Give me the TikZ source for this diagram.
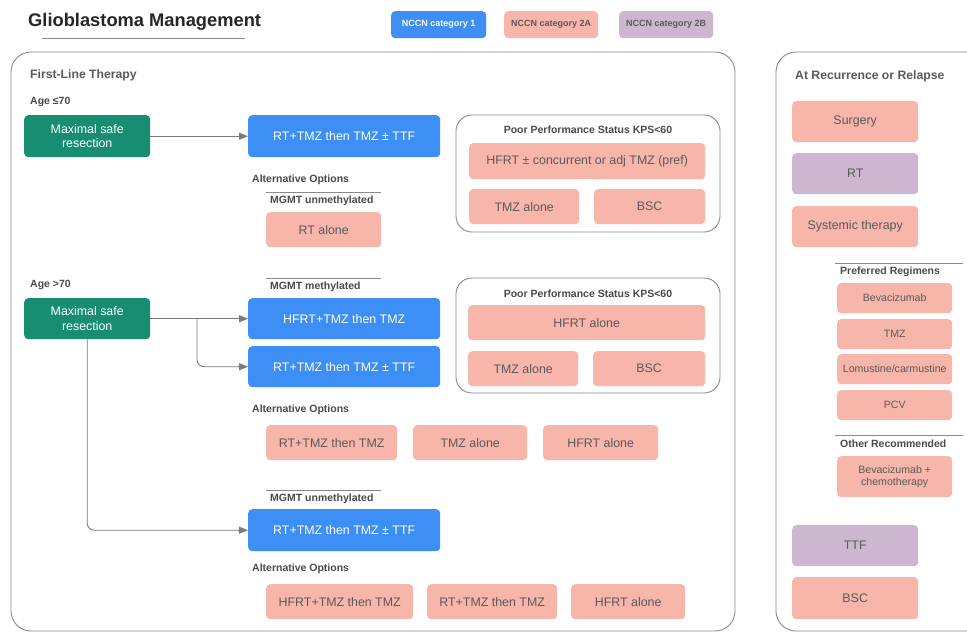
\documentclass[tikz,border=0pt]{standalone}
\usepackage{fontspec}
\setmainfont{Liberation Sans}
\usetikzlibrary{arrows.meta}
\definecolor{cblue}{HTML}{3D8EF5}
\definecolor{csal}{HTML}{F8B5A9}
\definecolor{clav}{HTML}{CDB7D0}
\definecolor{cgreen}{HTML}{178E71}
\definecolor{tgray}{HTML}{5A5A5A}
\definecolor{lgray}{HTML}{4A4A4A}
\definecolor{pgray}{HTML}{8A8A8A}
\definecolor{agray}{HTML}{7A7A7A}
\tikzset{
 box/.style={rounded corners=4pt, inner sep=0pt, align=center, anchor=north west, font=\fontsize{12.4}{14.5}\selectfont},
 cat1/.style={box, fill=cblue, text=white},
 cat2a/.style={box, fill=csal, text=tgray},
 cat2b/.style={box, fill=clav, text=tgray},
 surg/.style={box, fill=cgreen, text=white},
 sm/.style={font=\fontsize{10.6}{12.5}\selectfont},
 lbl/.style={anchor=west, inner sep=0pt, text=lgray, font=\bfseries\fontsize{10.5}{12}\selectfont},
 ttl/.style={anchor=west, inner sep=0pt, text=tgray, font=\bfseries\fontsize{12.2}{14}\selectfont},
 leg/.style={font=\bfseries\fontsize{9}{10}\selectfont},
 panel/.style={draw=pgray, line width=0.9pt, rounded corners=20pt},
 grp/.style={draw=pgray, line width=0.9pt, rounded corners=16pt},
 rule/.style={draw=pgray, line width=1pt},
 conn/.style={draw=agray, line width=0.9pt, -{Triangle[length=9pt,width=7pt]}},
 elbow/.style={draw=agray, line width=0.9pt, rounded corners=7pt},
}
\begin{document}
\begin{tikzpicture}[x=1pt,y=-1pt]
\clip (0,0) rectangle (967,632);
\fill[white] (0,0) rectangle (967,632);
% title and legend
\node[anchor=west, inner sep=0pt, text=black!85, font=\bfseries\fontsize{18.3}{21}\selectfont] (title) at (28,22) {Glioblastoma Management};
\draw[rule] (42,38) -- (245,38);
\node[cat1, leg, minimum width=95pt, minimum height=27pt] (leg1) at (391,11) {NCCN category 1};
\node[cat2a, leg, minimum width=94pt, minimum height=27pt] (leg2) at (504,11) {NCCN category 2A};
\node[cat2b, leg, minimum width=94pt, minimum height=27pt] (leg3) at (619,11) {NCCN category 2B};
% panels
\draw[panel] (11,52) rectangle (735,631);
\draw[panel] (776,52) rectangle (990,631);
\node[ttl] (flt) at (30,75) {First-Line Therapy};
\node[ttl] (rec) at (795,76) {At Recurrence or Relapse};
% Age <=70
\node[lbl] (age1) at (30,102) {Age ≤70};
\node[surg, minimum width=126pt, minimum height=42pt] (g1) at (24,115) {Maximal safe\\resection};
\node[cat1, minimum width=192pt, minimum height=42pt] (b1) at (248,115) {RT+TMZ then TMZ ± TTF};
\draw[conn] (g1) -- (b1);
\node[lbl] (alt1) at (252,180) {Alternative Options};
\draw[rule] (266,192) -- (381,192);
\node[lbl] (mu1) at (270,201) {MGMT unmethylated};
\node[cat2a, minimum width=115pt, minimum height=35pt] (rta) at (266,212) {RT alone};
\draw[grp] (456,115) rectangle (720,232);
\node[lbl, anchor=center] (pp1) at (588,130) {Poor Performance Status KPS<60};
\node[cat2a, minimum width=236pt, minimum height=36pt] (h1) at (469,143) {HFRT ± concurrent or adj TMZ (pref)};
\node[cat2a, minimum width=110pt, minimum height=35pt] (t1) at (469,189) {TMZ alone};
\node[cat2a, minimum width=111pt, minimum height=35pt] (s1) at (594,189) {BSC};
% Age >70
\node[lbl] (age2) at (30,285) {Age >70};
\draw[rule] (266,278) -- (381,278);
\node[lbl] (mm) at (270,287) {MGMT methylated};
\node[surg, minimum width=126pt, minimum height=41pt] (g2) at (24,298) {Maximal safe\\resection};
\node[cat1, minimum width=192pt, minimum height=41pt] (b2) at (248,298) {HFRT+TMZ then TMZ};
\node[cat1, minimum width=192pt, minimum height=41pt] (b3) at (248,346) {RT+TMZ then TMZ ± TTF};
\coordinate (br) at (197,318.5);
\draw[conn] (g2) -- (b2);
\draw[elbow] (br) |- ([xshift=-8pt]b3.west);
\draw[conn] ([xshift=-10pt]b3.west) -- (b3.west);
\draw[grp] (456,278) rectangle (720,393);
\node[lbl, anchor=center] (pp2) at (588,294) {Poor Performance Status KPS<60};
\node[cat2a, minimum width=237pt, minimum height=35pt] (h2) at (468,305) {HFRT alone};
\node[cat2a, minimum width=110pt, minimum height=35pt] (t2) at (468,351) {TMZ alone};
\node[cat2a, minimum width=112pt, minimum height=35pt] (s2) at (593,351) {BSC};
\node[lbl] (alt2) at (252,410) {Alternative Options};
\node[cat2a, minimum width=131pt, minimum height=35pt] (a21) at (266,425) {RT+TMZ then TMZ};
\node[cat2a, minimum width=114pt, minimum height=35pt] (a22) at (413,425) {TMZ alone};
\node[cat2a, minimum width=115pt, minimum height=35pt] (a23) at (543,425) {HFRT alone};
% unmethylated, age >70
\draw[rule] (266,490) -- (381,490);
\node[lbl] (mu2) at (270,499) {MGMT unmethylated};
\node[cat1, minimum width=192pt, minimum height=42pt] (b4) at (248,509) {RT+TMZ then TMZ ± TTF};
\draw[elbow] (g2.south) |- ([xshift=-8pt]b4.west);
\draw[conn] ([xshift=-10pt]b4.west) -- (b4.west);
\node[lbl] (alt3) at (252,569) {Alternative Options};
\node[cat2a, minimum width=147pt, minimum height=35pt] (a31) at (266,584) {HFRT+TMZ then TMZ};
\node[cat2a, minimum width=130pt, minimum height=35pt] (a32) at (427,584) {RT+TMZ then TMZ};
\node[cat2a, minimum width=114pt, minimum height=35pt] (a33) at (571,584) {HFRT alone};
% recurrence
\node[cat2a, minimum width=126pt, minimum height=41pt] (r1) at (792,101) {Surgery};
\node[cat2b, minimum width=126pt, minimum height=41pt] (r2) at (792,153) {RT};
\node[cat2a, minimum width=126pt, minimum height=41pt] (r3) at (792,206) {Systemic therapy};
\draw[rule] (835,263) -- (963,263);
\node[lbl] (pr) at (840,271.5) {Preferred Regimens};
\node[cat2a, sm, minimum width=115pt, minimum height=30pt] (p1) at (837,283) {Bevacizumab};
\node[cat2a, sm, minimum width=115pt, minimum height=30pt] (p2) at (837,319) {TMZ};
\node[cat2a, sm, minimum width=115pt, minimum height=30pt] (p3) at (837,354) {Lomustine/carmustine};
\node[cat2a, sm, minimum width=115pt, minimum height=30pt] (p4) at (837,390) {PCV};
\draw[rule] (835,435) -- (963,435);
\node[lbl] (orc) at (840,444) {Other Recommended};
\node[cat2a, sm, minimum width=115pt, minimum height=41pt] (p5) at (837,456) {Bevacizumab +\\chemotherapy};
\node[cat2b, minimum width=126pt, minimum height=41pt] (r4) at (792,525) {TTF};
\node[cat2a, minimum width=126pt, minimum height=42pt] (r5) at (792,577) {BSC};
\end{tikzpicture}
\end{document}
